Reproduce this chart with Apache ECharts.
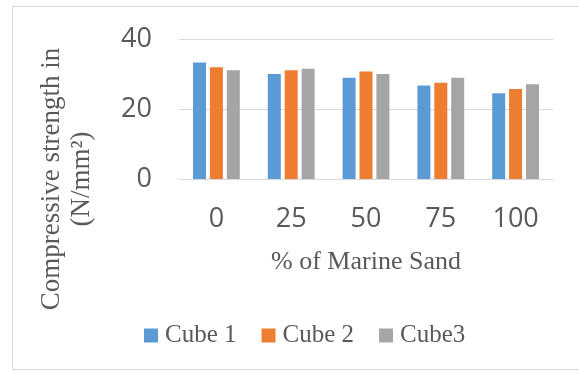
<!DOCTYPE html>
<html>
<head>
<meta charset="utf-8">
<script src="https://cdn.jsdelivr.net/npm/echarts@6/dist/echarts.min.js"></script>
<style>
  html, body { margin: 0; padding: 0; background: #fff; }
  #main { width: 579px; height: 372px; }
</style>
</head>
<body>
<div id="main"></div>
<script>
// data
var categories = ['0', '25', '50', '75', '100'];
var cube1 = [33.3, 30.0, 28.9, 26.7, 24.5];
var cube2 = [31.9, 31.1, 30.7, 27.5, 25.7];
var cube3 = [31.1, 31.5, 30.0, 28.9, 27.1];
var seriesNames = ['Cube 1', 'Cube 2', 'Cube3'];
var colors = ['#5B9BD5', '#ED7D31', '#A5A5A5'];

var myChart = echarts.init(document.getElementById('main'));

function bar(name, data, color) {
    return {
        name: name,
        type: 'bar',
        data: data,
        barWidth: 13,
        barGap: '30%',
        itemStyle: { color: color }
    };
}

myChart.setOption({
    animation: false,
    graphic: [{
        type: 'rect',
        shape: { x: 12.5, y: 6.5, width: 600, height: 363 },
        style: { fill: 'none', stroke: '#D9D9D9', lineWidth: 1 },
        silent: true
    }, {
        // y axis title, sits lower than the plot centre like in the picture
        type: 'text',
        x: 67,
        y: 179,
        rotation: Math.PI / 2,
        style: {
            text: 'Compressive strength in\n(N/mm²)',
            font: '27px "Liberation Serif"',
            fill: '#595959',
            align: 'center',
            verticalAlign: 'middle',
            lineHeight: 30
        },
        silent: true
    }],
    grid: { left: 179, right: 26, top: 39, bottom: 193 },
    legend: {
        data: seriesNames,
        top: 318,
        left: 139,
        itemWidth: 14,
        itemHeight: 14,
        itemGap: 25,
        icon: 'rect',
        textStyle: { fontFamily: 'Liberation Serif', fontSize: 25, color: '#595959', padding: [0, 0, 0, 2] }
    },
    xAxis: {
        type: 'category',
        data: categories,
        name: '% of Marine Sand',
        nameLocation: 'middle',
        nameGap: 70,
        nameTextStyle: { fontFamily: 'Liberation Serif', fontSize: 26, color: '#595959' },
        axisLine: { lineStyle: { color: '#D9D9D9' } },
        axisTick: { show: false },
        axisLabel: { fontFamily: 'Open Sans', fontSize: 27, color: '#595959', margin: 27 }
    },
    yAxis: {
        type: 'value',
        min: 0,
        max: 40,
        interval: 20,
        splitLine: { lineStyle: { color: '#D9D9D9' } },
        axisLine: { show: false },
        axisTick: { show: false },
        axisLabel: { fontFamily: 'Open Sans', fontSize: 27, color: '#595959', margin: 27 }
    },
    series: [
        bar(seriesNames[0], cube1, colors[0]),
        bar(seriesNames[1], cube2, colors[1]),
        bar(seriesNames[2], cube3, colors[2])
    ]
});
</script>
</body>
</html>
